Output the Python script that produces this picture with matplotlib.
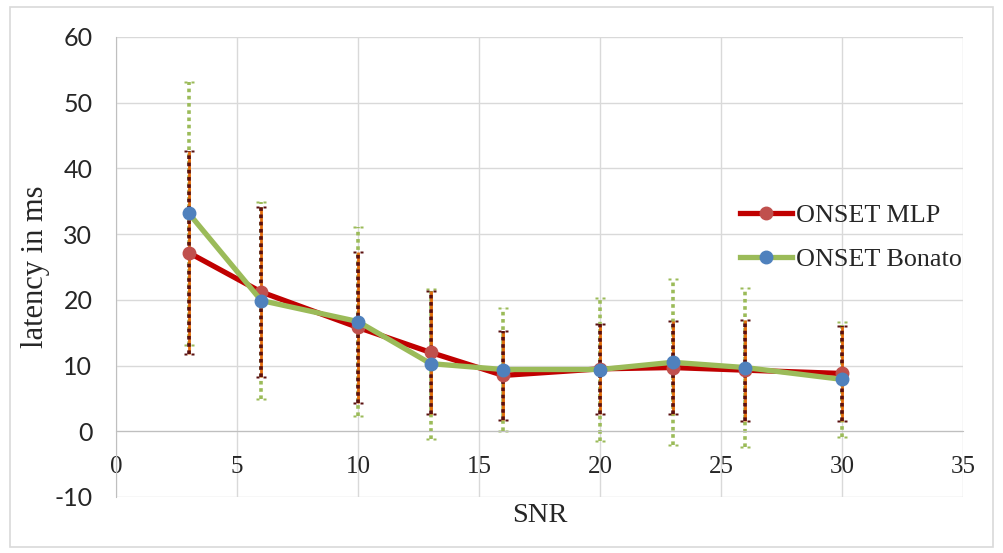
import matplotlib
matplotlib.use("Agg")
import matplotlib.pyplot as plt
from matplotlib.patches import Rectangle
from matplotlib.path import Path

plt.rcParams["axes.unicode_minus"] = False

# Latency (ms) vs SNR for two onset detectors, mean +/- std
snr = [3, 6, 10, 13, 16, 20, 23, 26, 30]
mlp = [27.2, 21.2, 15.8, 12.0, 8.5, 9.5, 9.7, 9.3, 8.8]
mlp_err = [15.5, 13.0, 11.5, 9.3, 6.8, 6.9, 7.1, 7.7, 7.2]
bonato = [33.2, 19.9, 16.7, 10.3, 9.4, 9.4, 10.5, 9.7, 7.9]
bonato_err = [20.0, 15.0, 14.4, 11.4, 9.3, 10.9, 12.6, 12.1, 8.8]
series_names = ["ONSET MLP", "ONSET Bonato"]
x_ticks = [0, 5, 10, 15, 20, 25, 30, 35]
y_ticks = [-10, 0, 10, 20, 30, 40, 50, 60]

serif = "Liberation Serif"
sans = "Lato"

# dotted cap: two small squares side by side
def _square(cx):
    h = 0.26
    return [(cx - h, -h), (cx + h, -h), (cx + h, h), (cx - h, h), (cx - h, -h)]

_codes = [Path.MOVETO, Path.LINETO, Path.LINETO, Path.LINETO, Path.CLOSEPOLY]
cap_marker = Path(_square(-0.74) + _square(0.74), _codes + _codes)

fig = plt.figure(figsize=(10.04, 5.53), dpi=100)
fig.patches.append(Rectangle((10 / 1004, 1 - 547 / 553), 983 / 1004, 540 / 553,
                             transform=fig.transFigure, fill=False,
                             edgecolor="#D9D9D9", lw=1.2, zorder=0))

ax = fig.add_axes([116 / 1004, 1 - 497 / 553, 847 / 1004, 460 / 553])
ax.set_xlim(0, 35)
ax.set_ylim(-10, 60)
ax.set_xticks(x_ticks)
ax.set_yticks(y_ticks)
ax.grid(True, color="#D9D9D9", lw=1.0, zorder=0)
ax.set_axisbelow(True)

for side in ("top", "right"):
    ax.spines[side].set_visible(False)
ax.spines["left"].set_color("#BFBFBF")
ax.spines["bottom"].set_color("#BFBFBF")
ax.spines["bottom"].set_position(("data", 0))
ax.tick_params(length=0)
ax.tick_params(axis="x", pad=17.5)
ax.tick_params(axis="y", pad=17)
for lab in ax.get_xticklabels():
    lab.set_fontfamily(serif)
    lab.set_fontsize(18)
    lab.set_color("#262626")
for lab in ax.get_yticklabels():
    lab.set_fontfamily(sans)
    lab.set_fontsize(18)
    lab.set_color("#262626")


def dotted_errorbars(x, y, err, colors, zorder):
    """Vertical dotted error bars with dotted caps."""
    lo = [v - e for v, e in zip(y, err)]
    hi = [v + e for v, e in zip(y, err)]
    under, dots = colors
    if under is not None:
        ax.vlines(x, lo, hi, colors=under, lw=2.0, zorder=zorder)
    ax.vlines(x, lo, hi, colors=dots, lw=2.6, linestyles=[(0, (1, 1))],
              zorder=zorder + 0.05)
    for ends in (lo, hi):
        ax.plot(x, ends, linestyle="none", marker=cap_marker, markersize=7.5,
                markerfacecolor=dots, markeredgecolor="none", zorder=zorder + 0.1)


dotted_errorbars(snr, bonato, bonato_err, (None, "#9BBB59"), 2)
dotted_errorbars(snr, mlp, mlp_err, ("#E46C0A", "#5A1010"), 3)

ax.plot(snr, mlp, color="#C00000", lw=3.8, marker="o", markersize=9,
        markerfacecolor="#C0504D", markeredgecolor="#C0504D",
        label=series_names[0], zorder=4)
ax.plot(snr, bonato, color="#9BBB59", lw=3.8, marker="o", markersize=9,
        markerfacecolor="#4F81BD", markeredgecolor="#4F81BD",
        label=series_names[1], zorder=5)

ax.set_ylabel("latency in ms", fontfamily=serif, fontsize=22, color="#262626",
              labelpad=3)
ax.set_xlabel("SNR", fontfamily=serif, fontsize=20.5, color="#262626")
ax.xaxis.set_label_coords(0.5, -0.014)

leg = ax.legend(loc="center left", bbox_to_anchor=(0.737, 0.564), frameon=False,
                prop={"family": serif, "size": 18.8}, handlelength=2.0,
                handletextpad=0.15, labelspacing=0.78, borderpad=0,
                borderaxespad=0)
for t in leg.get_texts():
    t.set_color("#262626")

fig.savefig("out.png", dpi=100)
